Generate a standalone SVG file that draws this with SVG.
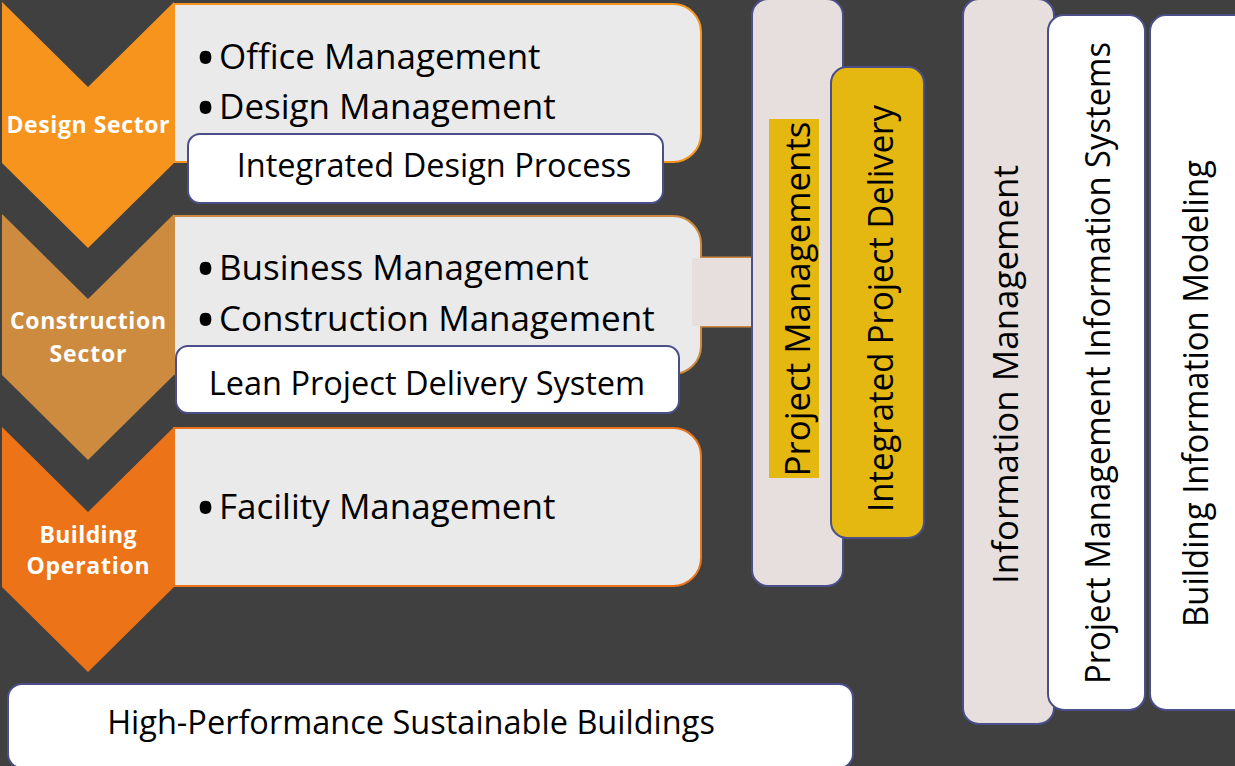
<svg xmlns="http://www.w3.org/2000/svg" width="1235" height="766" viewBox="0 0 1235 766">
  <defs>
    <style>
      .bg { fill: #404040; }
      .txt { font-family: "Open Sans", "Noto Sans", "Liberation Sans", sans-serif; fill: #000000; }
      .item { font-size: 35px; }
      .bul { font-size: 56px; }
      .lbl { font-size: 32.5px; text-anchor: middle; }
      .vert { font-size: 35px; text-anchor: middle; }
      .chev { font-family: "Open Sans", "Noto Sans", "Liberation Sans", sans-serif; font-weight: bold; font-size: 23px; fill: #ffffff; text-anchor: middle; }
      .panel { fill: #EAEAEA; stroke-width: 2; }
      .pill { fill: #ffffff; stroke: #4A4F8A; stroke-width: 2; }
      .bar { fill: #E6DFDD; stroke: #4A4F8A; stroke-width: 2; }
      .barY { fill: #E5B711; stroke: #4A4F8A; stroke-width: 2; }
      .barW { fill: #ffffff; stroke: #4A4F8A; stroke-width: 2; }
    </style>
  </defs>

  <rect class="bg" x="0" y="0" width="1235" height="766"/>

  <!-- Design sector row -->
  <g id="design-panel">
    <path class="panel" stroke="#F7941D" d="M174,4 H673 A28,28 0 0 1 701,32 V134 A28,28 0 0 1 673,162 H174 Z"/>
    <text class="txt item"><tspan class="bul" x="195" y="78">•</tspan><tspan x="219" y="69">Office Management</tspan></text>
    <text class="txt item"><tspan class="bul" x="195" y="128">•</tspan><tspan x="219" y="119">Design Management</tspan></text>
  </g>
  <g id="design-sector">
    <path fill="#F7941D" d="M2,2 L88,87 L174,2 L174,163 L88,248 L2,163 Z"/>
    <text class="chev" x="88" y="133" textLength="163">Design Sector</text>
  </g>
  <g id="integrated-design-process">
    <rect class="pill" x="188" y="134" width="475" height="69" rx="12"/>
    <text class="txt lbl" x="434" y="177">Integrated Design Process</text>
  </g>

  <!-- Construction sector row -->
  <g id="construction-panel">
    <path class="panel" stroke="#CB8A3E" d="M174,216 H673 A28,28 0 0 1 701,244 V346 A28,28 0 0 1 673,374 H174 Z"/>
    <text class="txt item"><tspan class="bul" x="195" y="289">•</tspan><tspan x="219" y="280">Business Management</tspan></text>
    <text class="txt item"><tspan class="bul" x="195" y="340">•</tspan><tspan x="219" y="331">Construction Management</tspan></text>
  </g>
  <g id="construction-sector">
    <path fill="#CC8B3F" d="M2,214 L88,299 L174,214 L174,375 L88,460 L2,375 Z"/>
    <text class="chev" x="88" y="329" textLength="156">Construction</text>
    <text class="chev" x="88" y="362" textLength="77">Sector</text>
  </g>
  <g id="lean-project-delivery">
    <rect class="pill" x="176" y="346" width="503" height="67" rx="12"/>
    <text class="txt lbl" x="427" y="395">Lean Project Delivery System</text>
  </g>

  <!-- Building operation row -->
  <g id="operation-panel">
    <path class="panel" stroke="#EC7318" d="M174,428 H673 A28,28 0 0 1 701,456 V558 A28,28 0 0 1 673,586 H174 Z"/>
    <text class="txt item"><tspan class="bul" x="195" y="528">•</tspan><tspan x="219" y="519">Facility Management</tspan></text>
  </g>
  <g id="building-operation">
    <path fill="#EC7318" d="M2,427 L88,512 L174,427 L174,587 L88,672 L2,587 Z"/>
    <text class="chev" x="88" y="543" textLength="97">Building</text>
    <text class="chev" x="88" y="574" textLength="123">Operation</text>
  </g>

  <!-- Bottom outcome -->
  <g id="sustainable-buildings">
    <rect class="pill" x="8" y="684" width="845" height="84" rx="14"/>
    <text class="txt lbl" x="411" y="734">High-Performance Sustainable Buildings</text>
  </g>

  <!-- Link from the construction row to project management -->
  <g id="connectors">
    <line x1="700" y1="257.5" x2="752" y2="257.5" stroke="#CB8A3E" stroke-width="2"/>
    <line x1="700" y1="326.5" x2="752" y2="326.5" stroke="#CB8A3E" stroke-width="2"/>
    <rect x="692" y="258" width="60" height="68" fill="#E6DFDD"/>
  </g>

  <!-- Project management columns -->
  <g id="project-managements">
    <rect class="bar" x="752" y="-1" width="91" height="587" rx="16"/>
    <rect x="769" y="119" width="50" height="359" fill="#E5B711"/>
    <text class="txt vert" transform="translate(810,299) rotate(-90)" textLength="355" lengthAdjust="spacingAndGlyphs">Project Managements</text>
  </g>
  <g id="integrated-project-delivery">
    <rect class="barY" x="831" y="67" width="93" height="471" rx="16"/>
    <text class="txt vert" transform="translate(893,308.5) rotate(-90)" textLength="407" lengthAdjust="spacingAndGlyphs">Integrated Project Delivery</text>
  </g>

  <!-- Information management columns -->
  <g id="information-management">
    <rect class="bar" x="963" y="-1" width="91" height="725" rx="16"/>
    <text class="txt vert" transform="translate(1018,374.5) rotate(-90)" textLength="419" lengthAdjust="spacingAndGlyphs">Information Management</text>
  </g>
  <g id="pmis">
    <rect class="barW" x="1048" y="15" width="97" height="695" rx="16"/>
    <text class="txt vert" transform="translate(1110,363) rotate(-90)" textLength="642" lengthAdjust="spacingAndGlyphs">Project Management Information Systems</text>
  </g>
  <g id="bim">
    <rect class="barW" x="1150" y="15" width="100" height="695" rx="16"/>
    <text class="txt vert" transform="translate(1208,393.5) rotate(-90)" textLength="467" lengthAdjust="spacingAndGlyphs">Building Information Modeling</text>
  </g>
</svg>
